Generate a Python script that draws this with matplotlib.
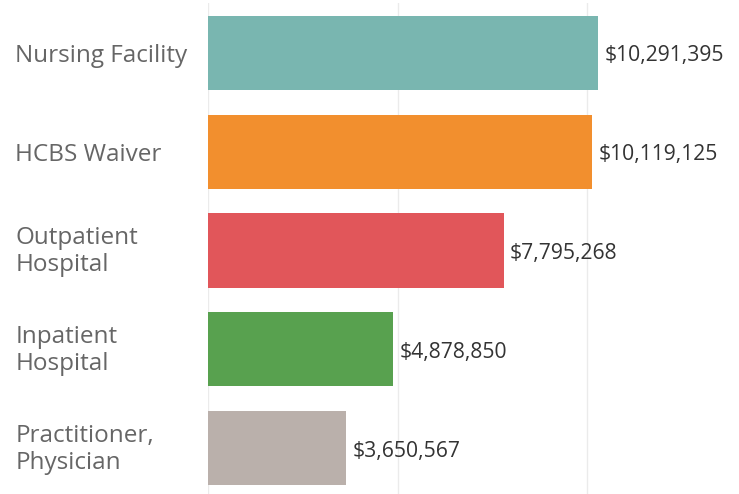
import matplotlib
matplotlib.use("Agg")
import matplotlib.pyplot as plt
from matplotlib.ticker import FixedLocator

categories = ["Nursing Facility", "HCBS Waiver", "Outpatient\nHospital", "Inpatient\nHospital", "Practitioner,\nPhysician"]
values = [10291395, 10119125, 7795268, 4878850, 3650567]
colors = ["#79b6b0", "#f28f2e", "#e1565a", "#58a14f", "#bab0ab"]
grid_ticks = [0, 5000000, 10000000]

W, H = 739, 494
fig = plt.figure(figsize=(W / 100, H / 100), dpi=100)
ax = fig.add_axes([208 / W, -3.5 / H, 1 - 208 / W, 1.0])

y = list(range(len(categories)))
ax.barh(y, values, height=0.75, color=colors, zorder=2)
ax.set_ylim(len(categories) - 0.5, -0.5)
ax.set_xlim(0, 14000000)

ax.xaxis.set_major_locator(FixedLocator(grid_ticks))
ax.grid(axis="x", color="#ebebeb", linewidth=1, zorder=0)
ax.tick_params(left=False, bottom=False, labelbottom=False, labelleft=False)
for s in ax.spines.values():
    s.set_visible(False)

for yi, v in zip(y, values):
    ax.text(v + 170000, yi + 0.03, f"${v:,}", va="center", ha="left",
            fontsize=15.2, color="#333333", family="Open Sans")

for yi, c in zip(y, categories):
    off = 0.03 if "\n" not in c else 0.012
    ax.text(-208 / 38 * 1e6 + 15 / 38 * 1e6, yi + off, c, va="center", ha="left",
            fontsize=17.5, color="#666666", family="Open Sans", linespacing=1.15,
            clip_on=False)

fig.savefig("out.png", dpi=100)
